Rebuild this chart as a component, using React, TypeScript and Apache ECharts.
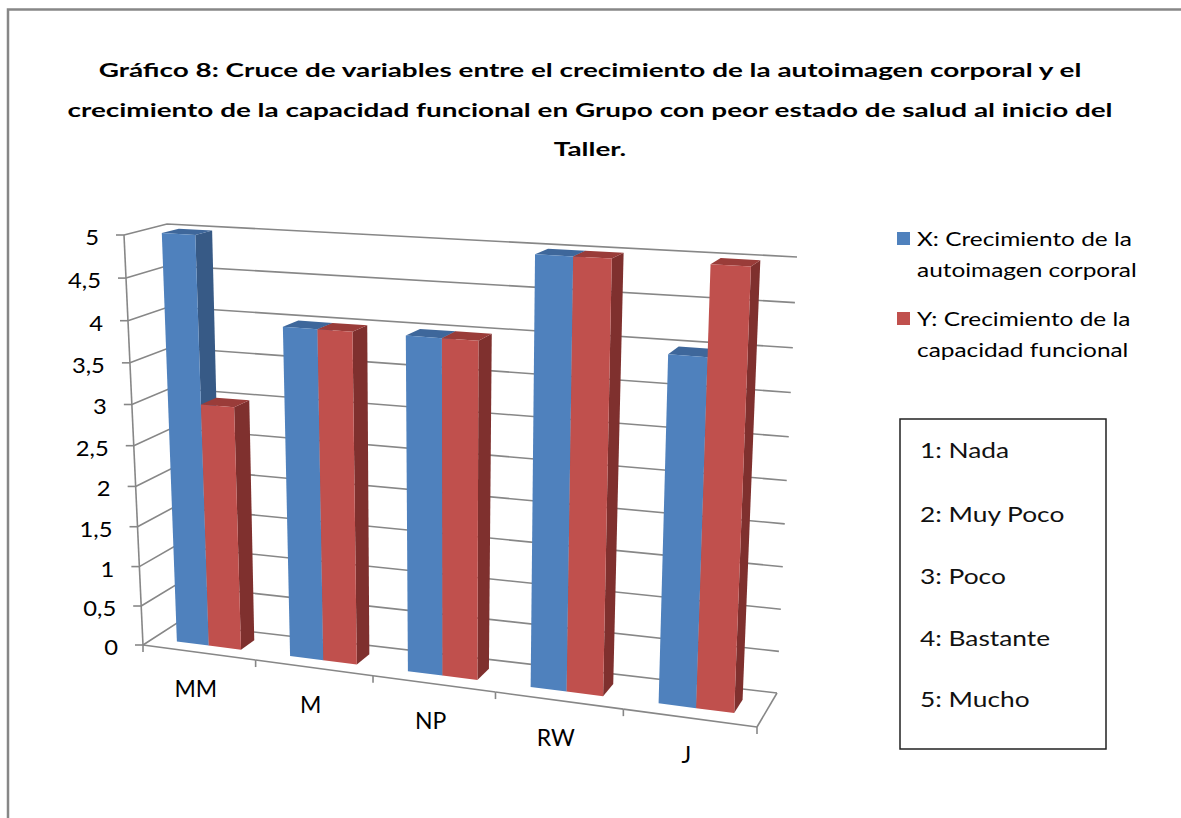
import React, { useEffect, useRef } from 'react';
import * as echarts from 'echarts';

// ---------------- data ----------------
const categories = ['MM', 'M', 'NP', 'RW', 'J'];
const crecimientoAutoimagen = [5, 4, 4, 5, 4];
const crecimientoCapacidad = [3, 4, 4, 5, 5];
const yTicks = [0, 0.5, 1, 1.5, 2, 2.5, 3, 3.5, 4, 4.5, 5];
const seriesNames = [
  'X: Crecimiento de la autoimagen corporal',
  'Y: Crecimiento de la capacidad funcional',
];
const legendLines = [
  ['X: Crecimiento de la', 'autoimagen corporal'],
  ['Y: Crecimiento de la', 'capacidad funcional'],
];
const scaleItems = ['1: Nada', '2: Muy Poco', '3: Poco', '4: Bastante', '5: Mucho'];
const titleLines = [
  'Gráfico 8: Cruce de variables entre el crecimiento de la autoimagen corporal y el',
  'crecimiento de la capacidad funcional en Grupo con peor estado de salud al inicio del',
  'Taller.',
];

// ---------------- layout / style ----------------
const FONT = 'Lato, "Open Sans", sans-serif';
const GRID_COLOR = '#878787';
const COLORS = [
  { front: '#4F81BD', side: '#375A86', top: '#3E679B' },
  { front: '#C0504D', side: '#7F302E', top: '#9A3C39' },
];

type P = [number, number];
function quadMap(p0: P, p1: P, p2: P, p3: P) {
  const [x0, y0] = p0, [x1, y1] = p1, [x2, y2] = p2, [x3, y3] = p3;
  const dx1 = x1 - x2, dx2 = x3 - x2, dx3 = x0 - x1 + x2 - x3;
  const dy1 = y1 - y2, dy2 = y3 - y2, dy3 = y0 - y1 + y2 - y3;
  const den = dx1 * dy2 - dx2 * dy1;
  const g = (dx3 * dy2 - dx2 * dy3) / den;
  const h = (dx1 * dy3 - dx3 * dy1) / den;
  const a = x1 - x0 + g * x1, b = x3 - x0 + h * x3, c = x0;
  const d = y1 - y0 + g * y1, e = y3 - y0 + h * y3, f = y0;
  return (u: number, v: number): P => {
    const w = g * u + h * v + 1;
    return [(a * u + b * v + c) / w, (d * u + e * v + f) / w];
  };
}
// back wall and front plane of the 3D box (bottom-left, bottom-right, top-right, top-left)
const hb = quadMap([177, 623], [777, 693], [797, 257], [167, 224]);
const hf = quadMap([143, 645], [757, 727], [775, 273], [124, 235]);
function proj(u: number, v: number, d: number): number[] {
  const b = hb(u, v), f = hf(u, v);
  return [b[0] + (f[0] - b[0]) * d, b[1] + (f[1] - b[1]) * d];
}
const BAR_FRAC = 1 / 3.5;
const D_FRONT = 0.7;
const D_BACK = 0.3;

let measureCtx: CanvasRenderingContext2D | null = null;
function measure(text: string, font: string): number {
  if (!measureCtx) measureCtx = document.createElement('canvas').getContext('2d');
  if (!measureCtx) return text.length * 8;
  measureCtx.font = font;
  return measureCtx.measureText(text).width;
}

function norm(api: any, cat: number, val: number, bandOffset: number): [number, number] {
  const W = api.getWidth(), H = api.getHeight();
  const c = api.coord([cat, val]);
  const band = api.size([1, 0])[0];
  return [(c[0] + bandOffset * band) / W, 1 - c[1] / H];
}

function barRenderer(seriesIdx: number) {
  const col = COLORS[seriesIdx];
  return (params: any, api: any) => {
    const cat = api.value(0);
    const val = api.value(1);
    const off0 = seriesIdx === 0 ? -BAR_FRAC : 0;
    const [u0, vTop] = norm(api, cat, val, off0);
    const [u1] = norm(api, cat, val, off0 + BAR_FRAC);
    const [, vBot] = norm(api, cat, 0, 0);
    const fbl = proj(u0, vBot, D_FRONT), fbr = proj(u1, vBot, D_FRONT);
    const ftr = proj(u1, vTop, D_FRONT), ftl = proj(u0, vTop, D_FRONT);
    const bbr = proj(u1, vBot, D_BACK), btr = proj(u1, vTop, D_BACK), btl = proj(u0, vTop, D_BACK);
    return {
      type: 'group',
      children: [
        { type: 'polygon', shape: { points: [ftr, btr, bbr, fbr] }, style: { fill: col.side } },
        { type: 'polygon', shape: { points: [ftl, btl, btr, ftr] }, style: { fill: col.top } },
        { type: 'polygon', shape: { points: [fbl, fbr, ftr, ftl] }, style: { fill: col.front } },
      ],
    };
  };
}

const Y_LABEL_FONT = `21px Lato`;
const CAT_FONT = `23px Lato`;

function wallsRenderer(params: any, api: any) {
  const val = api.value(1);
  const [, v] = norm(api, 0, val, -0.5);
  const fl = proj(0, v, 1), bl = proj(0, v, 0), br = proj(1, v, 0);
  const label = String(val).replace('.', ',');
  const ySx = 33 / measure('4,5', Y_LABEL_FONT);
  const children: any[] = [
    { type: 'polyline', shape: { points: [fl, bl, br] }, style: { stroke: GRID_COLOR, lineWidth: 1.6, fill: null } },
    { type: 'line', shape: { x1: fl[0] - 8, y1: fl[1], x2: fl[0], y2: fl[1] }, style: { stroke: GRID_COLOR, lineWidth: 1.6 } },
    {
      type: 'text', x: fl[0] - 25, y: fl[1] + 2, scaleX: ySx,
      style: { text: label, fill: '#000', fontSize: 21, fontFamily: 'Lato', align: 'right', verticalAlign: 'middle' },
    },
  ];
  if (params.dataIndex === 0) {
    const top = proj(0, 1, 1);
    children.push({ type: 'line', shape: { x1: fl[0], y1: fl[1], x2: top[0], y2: top[1] }, style: { stroke: GRID_COLOR, lineWidth: 1.6 } });
  }
  return { type: 'group', children };
}

function categoryRenderer(params: any, api: any) {
  const cat = api.value(0);
  const [uL, v0] = norm(api, cat, 0, -0.5);
  const [uC] = norm(api, cat, 0, 0);
  const [uR] = norm(api, cat, 0, 0.5);
  const a = proj(uL, v0, 1), b = proj(uR, v0, 1), c = proj(uC, v0, 1);
  const bb = proj(uR, v0, 0);
  const children: any[] = [
    { type: 'line', shape: { x1: a[0], y1: a[1], x2: b[0], y2: b[1] }, style: { stroke: GRID_COLOR, lineWidth: 1.6 } },
    { type: 'line', shape: { x1: a[0], y1: a[1], x2: a[0], y2: a[1] + 7 }, style: { stroke: GRID_COLOR, lineWidth: 1.6 } },
    {
      type: 'text', x: c[0] - 3, y: c[1] + 36,
      style: { text: categories[cat], fill: '#000', fontSize: 23, fontFamily: 'Lato', align: 'center', verticalAlign: 'middle' },
    },
  ];
  if (cat === categories.length - 1) {
    children.push({ type: 'line', shape: { x1: b[0], y1: b[1], x2: b[0], y2: b[1] + 7 }, style: { stroke: GRID_COLOR, lineWidth: 1.6 } });
    children.push({ type: 'line', shape: { x1: b[0], y1: b[1], x2: bb[0], y2: bb[1] }, style: { stroke: GRID_COLOR, lineWidth: 1.6 } });
  }
  return { type: 'group', children };
}

function buildGraphic() {
  const elements: any[] = [];
  elements.push({
    type: 'rect', x: 8, y: 9.5, shape: { width: 1200, height: 850 },
    style: { fill: null, stroke: '#878787', lineWidth: 2.5 }, silent: true,
  });
  const tFont = `bold 18px Lato`;
  const tSx = 985 / measure(titleLines[0], tFont);
  const titleY = [70, 110, 149];
  titleLines.forEach((t, i) => {
    elements.push({
      type: 'text', x: 590, y: titleY[i], scaleX: tSx,
      style: { text: t, fill: '#000', fontSize: 18, fontWeight: 'bold', fontFamily: 'Lato', align: 'center', verticalAlign: 'middle' },
    });
  });
  const lFont = `19px Lato`;
  const lSx = 215 / measure(legendLines[0][0], lFont);
  const legendTop = [232, 312];
  legendLines.forEach((lines, i) => {
    elements.push({
      type: 'rect', x: 897, y: legendTop[i], shape: { width: 13, height: 13 },
      style: { fill: COLORS[i].front },
    });
    lines.forEach((line, j) => {
      elements.push({
        type: 'text', x: 917, y: legendTop[i] + 7 + j * 31, scaleX: lSx,
        style: { text: line, fill: '#000', fontSize: 19, fontFamily: 'Lato', align: 'left', verticalAlign: 'middle' },
      });
    });
  });
  elements.push({
    type: 'rect', x: 900, y: 419, shape: { width: 206, height: 330 },
    style: { fill: '#fff', stroke: '#222', lineWidth: 1.5 },
  });
  const bFont = `22px Lato`;
  const bSx = 145 / measure(scaleItems[1], bFont);
  const boxY = [449, 513, 575, 637, 698];
  scaleItems.forEach((t, i) => {
    elements.push({
      type: 'text', x: 920, y: boxY[i], scaleX: bSx,
      style: { text: t, fill: '#111', fontSize: 22, fontFamily: 'Lato', align: 'left', verticalAlign: 'middle' },
    });
  });
  return elements;
}

export default function App() {
  const ref = useRef<HTMLDivElement>(null);
  useEffect(() => {
    if (!ref.current) return;
    const chart = echarts.init(ref.current, undefined, { renderer: 'svg' });
    const option: any = {
      animation: false,
      backgroundColor: '#fff',
      textStyle: { fontFamily: FONT },
      grid: { left: 0, right: 0, top: 0, bottom: 0, containLabel: false },
      xAxis: { type: 'category', data: categories, show: false },
      yAxis: { type: 'value', min: 0, max: 5, interval: 0.5, show: false },
      series: [
        {
          type: 'custom', name: 'walls', silent: true, clip: false,
          renderItem: wallsRenderer,
          data: yTicks.map((v) => [0, v]),
          z: 1,
        },
        {
          type: 'custom', name: seriesNames[0], clip: false,
          itemStyle: { color: COLORS[0].front },
          renderItem: barRenderer(0),
          data: categories.map((_, i) => [i, crecimientoAutoimagen[i]]),
          z: 2,
        },
        {
          type: 'custom', name: seriesNames[1], clip: false,
          itemStyle: { color: COLORS[1].front },
          renderItem: barRenderer(1),
          data: categories.map((_, i) => [i, crecimientoCapacidad[i]]),
          z: 3,
        },
        {
          type: 'custom', name: 'categorias', silent: true, clip: false,
          renderItem: categoryRenderer,
          data: categories.map((_, i) => [i, 0]),
          z: 4,
        },
      ],
      graphic: buildGraphic(),
    };
    chart.setOption(option);
    return () => chart.dispose();
  }, []);
  return (
    <div
      ref={ref}
      style={{ position: 'fixed', left: 0, top: 0, width: 1181, height: 818, background: '#fff' }}
    />
  );
}
